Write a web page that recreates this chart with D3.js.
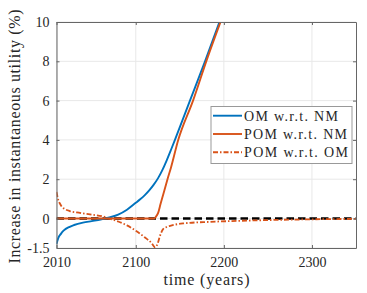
<!DOCTYPE html>
<html><head><meta charset="utf-8">
<script src="https://cdn.jsdelivr.net/npm/d3@7"></script>
<style>
html,body{margin:0;padding:0;background:#fff;}
svg{display:block;font-family:"Liberation Serif","DejaVu Serif",serif;}
</style></head>
<body><svg id="c" width="367" height="293"></svg>
<script>
const xTicks = [2010, 2100, 2200, 2300];
const yTicks = [-1.5, 0, 2, 4, 6, 8, 10];
const seriesNames = ["OM w.r.t. NM", "POM w.r.t. NM", "POM w.r.t. OM"];

const omYears = [2010,2012,2015,2018,2025,2030,2040,2050,2060,2070,2080,2090,2100,2105,2110,2115,2120,2125,2130,2135,2140,2145,2161.5,2178.6,2195,2200];
const omVals  = [-1.3,-1.0,-0.78,-0.62,-0.42,-0.33,-0.21,-0.13,-0.05,0.05,0.2,0.45,0.8,0.98,1.18,1.42,1.7,2.03,2.45,2.95,3.5,4.07,6.0,8.0,10.0,10.6];

const pomYears = [2010,2050,2100,2120.5,2123,2125.5,2128,2131,2136,2140,2148,2165,2180.5,2197,2202];
const pomVals  = [0,0,0,0,0.1,0.3,0.72,1.2,2.0,2.6,3.97,6.0,8.06,10.1,10.7];

const pomOmYears = [2010,2012,2014,2016,2019.6,2025,2033,2040,2048,2063,2070,2080,2090,2100,2110,2118,2122,2125,2127.5,2131,2135,2139,2154,2184,2215,2250,2300,2350];
const pomOmVals  = [1.35,0.95,0.75,0.6,0.48,0.38,0.31,0.26,0.21,0.1,0.0,-0.15,-0.35,-0.62,-0.95,-1.25,-1.47,-1.25,-0.88,-0.54,-0.43,-0.37,-0.25,-0.17,-0.12,-0.08,-0.04,-0.02];

const baseYears = [2010, 2350];
const baseVals = [0, 0];

const svg = d3.select("#c");
const L = 56.5, R = 356, T = 22, B = 248;
const x = d3.scaleLinear().domain([2010, 2350]).range([L, R]);
const y = d3.scaleLinear().domain([-1.5, 10]).range([B, T]);

// grid
svg.append("g").selectAll("line").data(xTicks).join("line")
  .attr("x1", d => x(d)).attr("x2", d => x(d)).attr("y1", T).attr("y2", B)
  .attr("stroke", "#e8e8e8").attr("stroke-width", 1);
svg.append("g").selectAll("line").data(yTicks).join("line")
  .attr("y1", d => y(d)).attr("y2", d => y(d)).attr("x1", L).attr("x2", R)
  .attr("stroke", "#e8e8e8").attr("stroke-width", 1);

svg.append("defs").append("clipPath").attr("id", "clip")
  .append("rect").attr("x", L).attr("y", T).attr("width", R - L).attr("height", B - T);

const line = d3.line().x(d => x(d[0])).y(d => y(d[1])).curve(d3.curveMonotoneX);
const zip = (a, b) => a.map((v, i) => [v, b[i]]);

const g = svg.append("g").attr("clip-path", "url(#clip)");
g.append("path").attr("d", line(zip(baseYears, baseVals)))
  .attr("fill", "none").attr("stroke", "#000").attr("stroke-width", 2.6).attr("stroke-dasharray", "7.5,4");
g.append("path").attr("d", line(zip(pomOmYears, pomOmVals)))
  .attr("fill", "none").attr("stroke", "#D95319").attr("stroke-width", 1.8).attr("stroke-dasharray", "5,2,1.5,2");
g.append("path").attr("d", line(zip(omYears, omVals)))
  .attr("fill", "none").attr("stroke", "#0072BD").attr("stroke-width", 1.9);
g.append("path").attr("d", line(zip(pomYears, pomVals)))
  .attr("fill", "none").attr("stroke", "#D95319").attr("stroke-width", 1.9);

// axes
const axisColor = "#262626";
const fmtY = d => d === -1.5 ? "-1.5" : d3.format("d")(d);
const ax = svg.append("g").attr("transform", `translate(0,${B})`)
  .call(d3.axisBottom(x).tickValues(xTicks).tickFormat(d3.format("d")).tickSizeInner(-3).tickSizeOuter(0).tickPadding(9));
const ay = svg.append("g").attr("transform", `translate(${L},0)`)
  .call(d3.axisLeft(y).tickValues(yTicks).tickFormat(fmtY).tickSizeInner(-3).tickSizeOuter(0).tickPadding(7));
const axTop = svg.append("g").attr("transform", `translate(0,${T})`)
  .call(d3.axisTop(x).tickValues(xTicks).tickFormat("").tickSizeInner(-3).tickSizeOuter(0));
const ayR = svg.append("g").attr("transform", `translate(${R},0)`)
  .call(d3.axisRight(y).tickValues(yTicks).tickFormat("").tickSizeInner(-3).tickSizeOuter(0));
[ax, ay, axTop, ayR].forEach(a => {
  a.select(".domain").attr("stroke", "#666").attr("stroke-width", 1);
  a.selectAll(".tick line").attr("stroke", "#666");
  a.selectAll("text").attr("fill", axisColor).attr("font-size", 14)
    .attr("font-family", "Liberation Serif");
});

// labels
svg.append("text").attr("x", 206.5).attr("y", 285).attr("text-anchor", "middle")
  .attr("font-size", 16).attr("fill", axisColor)
  .attr("textLength", 86).attr("lengthAdjust", "spacing").text("time (years)");
svg.append("text").attr("transform", "translate(19.5,136.5) rotate(-90)").attr("text-anchor", "middle")
  .attr("font-size", 16).attr("fill", axisColor)
  .attr("textLength", 254).attr("lengthAdjust", "spacing").text("Increase in instantaneous utility (%)");

// legend
const lg = svg.append("g");
lg.append("rect").attr("x", 211).attr("y", 106.5).attr("width", 141).attr("height", 57)
  .attr("fill", "#fff").attr("stroke", "#999").attr("stroke-width", 1);
const legStyles = [
  {c: "#0072BD", dash: null, w: 94},
  {c: "#D95319", dash: null, w: 103},
  {c: "#D95319", dash: "5,2,1.5,2", w: 104}
];
const legY = [115.7, 134, 152.3];
seriesNames.forEach((n, i) => {
  const l = lg.append("line").attr("x1", 213).attr("x2", 242).attr("y1", legY[i]).attr("y2", legY[i])
    .attr("stroke", legStyles[i].c).attr("stroke-width", 1.9);
  if (legStyles[i].dash) l.attr("stroke-dasharray", legStyles[i].dash);
  lg.append("text").attr("x", 244).attr("y", legY[i]).attr("dy", "0.35em")
    .attr("font-size", 14).attr("fill", axisColor)
    .attr("textLength", legStyles[i].w).attr("lengthAdjust", "spacing").text(n);
});
</script></body></html>
